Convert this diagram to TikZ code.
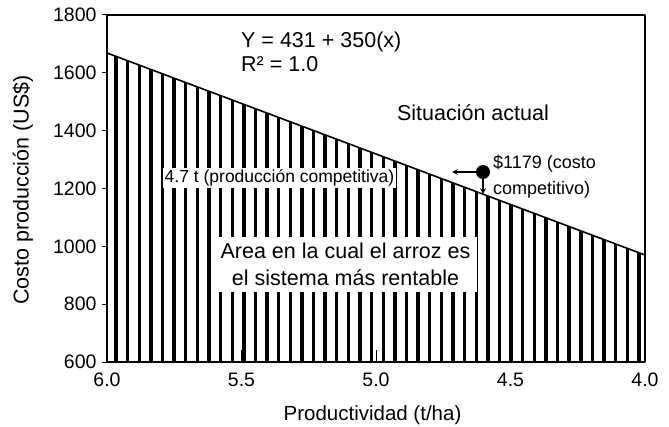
\documentclass[tikz,border=0pt]{standalone}
\usepackage{fontspec}
\setmainfont{Liberation Sans}
\begin{document}
\begin{tikzpicture}[x=1pt,y=1pt,line join=round,>=stealth,
	lbl/.style={inner sep=1pt,font=\fontsize{21.5}{27}\selectfont},
	tick/.style={inner sep=1pt,font=\fontsize{19.5}{22}\selectfont},
	small/.style={inner sep=2pt,font=\fontsize{18}{26}\selectfont}]
	\def\L{107}
	\def\R{645}
	\def\B{64}
	\def\T{411}
	\useasboundingbox (0,0) rectangle (669,426);
	%Dibujar las barras bajo la recta
	\foreach \i in {0,...,45}{
		\pgfmathsetmacro{\xx}{116+\i*11.62}
		\pgfmathsetmacro{\yy}{373-(\xx-\L)/538*202}
		\draw[line width=3.4pt] (\xx,\B)--(\xx,\yy);
	}
	%Dibujar la recta y el marco
	\draw[line width=1.6pt] (\L,373)--(\R,171);
	\draw[line width=1.6pt] (\L,\B) rectangle (\R,\T);
	%Ejes
	\foreach \v [count=\k] in {600,800,...,1800}{
		\pgfmathsetmacro{\yy}{\B+(\v-600)*0.28917}
		\draw[line width=1pt] (\L,\yy)--++(-5,0) node[tick,left=4pt] (yt\k) {\v};
	}
	\foreach \p [count=\k] in {6.0,5.5,5.0,4.5,4.0}{
		\pgfmathsetmacro{\xx}{\L+(6-\p)*269}
		\draw[line width=0.8pt] (\xx,\B)--++(0,12);
		\node[tick] (xt\k) at (\xx,46) {\p};
	}
	\node[lbl,rotate=90] (ylab) at (23,236) {Costo producción (US\$)};
	\node[lbl,font=\fontsize{20.5}{24}\selectfont] (xlab) at (372.5,11) {Productividad (t/ha)};
	%Textos
	\node[lbl,anchor=west] (eq) at (240,384) {Y = 431 + 350(x)};
	\node[lbl,anchor=west] (r2) at (240,362) {R² = 1.0};
	\node[lbl] (sit) at (473,313) {Situación actual};
	\node[small,fill=white,font=\fontsize{17.5}{21}\selectfont] (prod) at (279.5,248) {4.7 t (producción competitiva)};
	\node[small,anchor=west,align=left] (cost) at (491,249.5) {\$1179 (costo\\competitivo)};
	\node[lbl,fill=white,align=center,inner xsep=7pt,inner ysep=6pt] (area) at (345.5,161.5) {Area en la cual el arroz es\\el sistema más rentable};
	%Punto y flechas
	\node[circle,fill,inner sep=0pt,minimum size=14pt] (pto) at (483,254) {};
	\coordinate (izq) at (452,254);
	\coordinate (abj) at (483,232);
	\draw[->,line width=1.6pt] (pto)--(izq);
	\draw[->,line width=1.6pt] (pto)--(abj);
\end{tikzpicture}
\end{document}
